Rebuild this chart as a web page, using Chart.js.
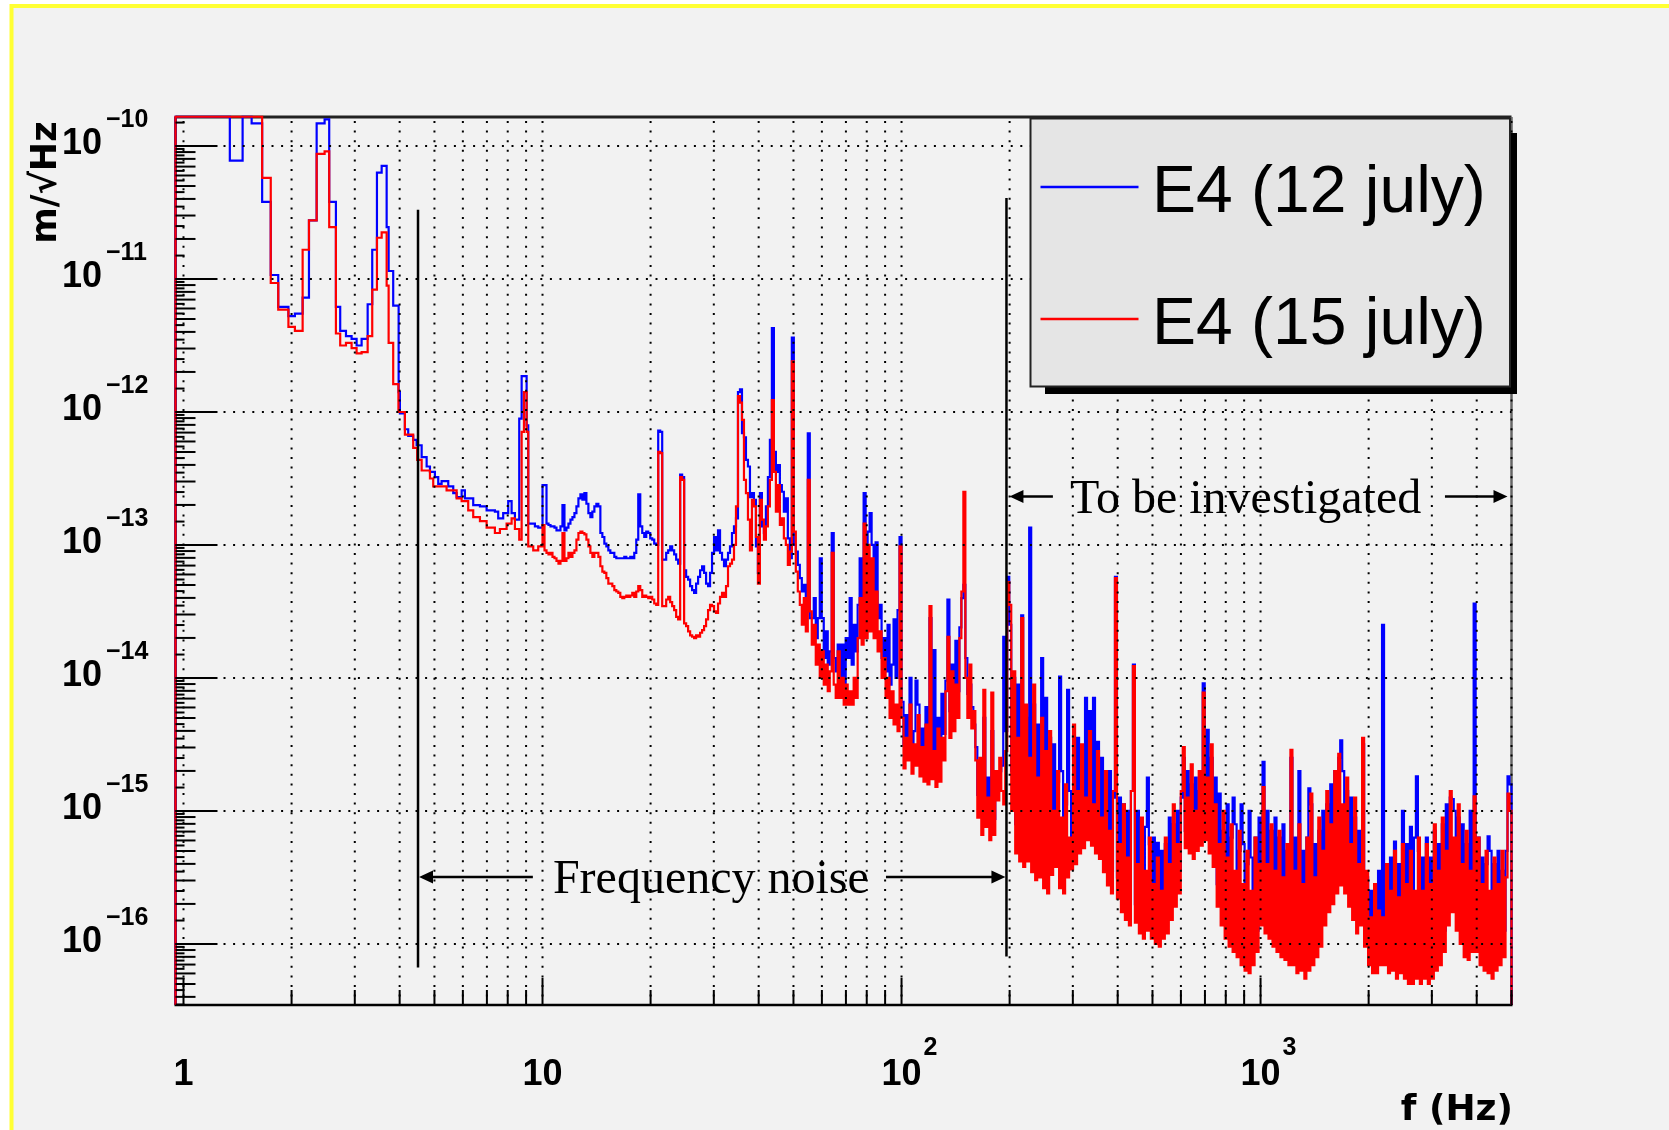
<!DOCTYPE html>
<html>
<head>
<meta charset="utf-8">
<title>E4 displacement spectrum</title>
<script src="https://cdn.jsdelivr.net/npm/chart.js@4.4.1/dist/chart.umd.min.js"></script>
<style>
  html, body { margin: 0; padding: 0; background: #ffffff; }
  canvas { display: block; }
</style>
</head>
<body>
<canvas id="psd" width="1669" height="1130"></canvas>
<script>
// Axis ranges
const FREQ_MIN = 0.95, FREQ_MAX = 5000;             // Hz
const AMP_MIN = 3.475e-17, AMP_MAX = 1.652e-10;     // m/sqrt(Hz)

// Tick labels
const xDecades = [1, 10, 100, 1000];
const xDecadeExp = ['', '', '2', '3'];               // '' -> plain label
const yDecadeExp = [-16, -15, -14, -13, -12, -11, -10];

// Below 10 Hz: [bin low edge (Hz), log10 amplitude]
const lowBlue = [[0.95,-9.78],[1.346,-10.11],[1.461,-9.78],[1.548,-9.83],[1.656,-10.42],[1.75,-10.97],[1.836,-11.21],[1.96,-11.28],[2.043,-11.26],[2.147,-11.14],[2.236,-10.56],[2.349,-9.83],[2.472,-9.80],[2.546,-10.42],[2.658,-11.21],[2.732,-11.39],[2.835,-11.43],[2.939,-11.45],[3.035,-11.50],[3.134,-11.45],[3.258,-11.19],[3.355,-10.78],[3.458,-10.20],[3.564,-10.15],[3.680,-10.61],[3.727,-10.94],[3.838,-11.20],[3.974,-11.85],[4.007,-12.01],[4.137,-12.13],[4.226,-12.18],[4.363,-12.21],[4.460,-12.25],[4.606,-12.34],[4.756,-12.41],[4.858,-12.45],[5.015,-12.49],[5.123,-12.54],[5.235,-12.52],[5.463,-12.56],[5.641,-12.61],[5.765,-12.64],[5.953,-12.59],[6.079,-12.65],[6.412,-12.70],[6.694,-12.71],[6.987,-12.74],[7.368,-12.75],[7.526,-12.80],[7.771,-12.76],[8.025,-12.67],[8.202,-12.76],[8.378,-12.81],[8.613,-12.05],[8.747,-11.73],[9.031,-12.10],[9.125,-12.84],[9.524,-12.86],[9.728,-12.87]];
const lowRed = [[0.95,-9.78],[1.656,-10.24],[1.75,-11.03],[1.836,-11.23],[1.96,-11.36],[2.043,-11.39],[2.147,-10.78],[2.236,-10.56],[2.349,-10.06],[2.472,-10.04],[2.546,-10.61],[2.658,-11.41],[2.732,-11.50],[2.835,-11.48],[2.939,-11.52],[3.035,-11.56],[3.134,-11.55],[3.258,-11.43],[3.355,-11.08],[3.458,-10.69],[3.564,-10.65],[3.680,-11.05],[3.727,-11.48],[3.838,-11.79],[3.969,-12.00],[4.137,-12.17],[4.363,-12.27],[4.477,-12.36],[4.606,-12.44],[4.858,-12.50],[4.961,-12.56],[5.405,-12.59],[5.765,-12.65],[5.953,-12.67],[6.209,-12.74],[6.412,-12.79],[6.694,-12.82],[6.987,-12.87],[7.368,-12.91],[7.608,-12.88],[7.943,-12.84],[8.202,-12.80],[8.378,-12.88],[8.613,-12.96],[8.747,-12.15],[8.877,-11.85],[9.031,-12.15],[9.125,-13.01],[9.422,-13.04],[9.728,-13.01]];

// Above 10 Hz: log10 amplitude per log-spaced bin, one list per band
const bandEdges = [[10, 100], [100, 1000], [1000, 5000]];

const blue10to100 = [
-12.55,-12.55,-12.84,-12.85,-12.86,-12.86,-12.87,-12.89,-12.89,-12.86,
-12.70,-12.89,-12.87,-12.84,-12.81,-12.79,-12.76,-12.71,-12.65,-12.62,
-12.66,-12.61,-12.69,-12.76,-12.79,-12.75,-12.71,-12.69,-12.71,-12.91,
-12.94,-12.99,-13.01,-13.04,-13.06,-13.06,-13.09,-13.10,-13.10,-13.10,
-13.10,-13.09,-13.10,-13.10,-13.09,-13.10,-13.06,-12.96,-12.62,-12.86,
-12.91,-12.94,-12.90,-12.91,-12.95,-12.96,-12.99,-13.00,-12.14,-12.15,
-13.11,-13.11,-13.06,-13.04,-13.01,-13.04,-13.07,-13.11,-13.14,-12.47,
-12.49,-13.19,-13.24,-13.26,-13.31,-13.34,-13.36,-13.29,-13.24,-13.19,
-13.16,-13.21,-13.29,-13.31,-13.21,-13.06,-12.94,-13.04,-12.89,-13.06,
-13.11,-13.16,-13.11,-13.06,-13.01,-12.91,-12.86,-12.80,-11.85,-11.83,
-12.16,-12.19,-12.36,-12.41,-12.64,-12.61,-12.66,-13.01,-13.21,-12.61,
-12.86,-12.91,-12.71,-12.49,-12.21,-11.37,-12.30,-12.45,-12.40,-12.55,
-12.60,-12.75,-12.65,-12.95,-13.10,-11.44,-13.00,-13.05,-13.15,-13.25,
-13.35,-13.30,-13.45,-12.16,-13.55,-13.55,-13.40,-13.70,-13.55,-13.10,
-13.55,-13.85,-13.65,-13.90,-13.80,-12.91,-13.85,-13.95,-13.75,-14.00,
-13.75,-14.05,-13.70,-13.85,-13.40,-13.90,-13.60,-13.80,-13.45,-13.10,
-13.50,-12.61,-13.45,-12.90,-12.76,-13.00,-13.40,-12.98,-13.55,-13.45,
-13.85,-13.70,-13.95,-13.60,-14.05,-13.90,-13.56,-14.00,-13.49,-12.94];
const red10to100 = [
-12.85,-13.04,-13.06,-13.07,-13.06,-13.09,-13.10,-13.12,-13.14,-13.12,
-12.91,-13.12,-13.10,-13.06,-13.09,-13.06,-13.04,-12.96,-12.91,-12.90,
-12.91,-12.92,-12.96,-13.01,-13.06,-13.09,-13.06,-13.06,-13.09,-13.16,
-13.20,-13.21,-13.25,-13.29,-13.29,-13.31,-13.34,-13.35,-13.36,-13.39,
-13.40,-13.39,-13.38,-13.39,-13.38,-13.36,-13.39,-13.35,-13.31,-13.34,
-13.39,-13.38,-13.39,-13.40,-13.39,-13.41,-13.44,-13.45,-12.30,-12.31,
-13.46,-13.46,-13.41,-13.39,-13.43,-13.46,-13.49,-13.54,-13.56,-12.49,
-12.51,-13.59,-13.61,-13.65,-13.68,-13.69,-13.70,-13.68,-13.69,-13.66,
-13.64,-13.61,-13.56,-13.49,-13.45,-13.46,-13.50,-13.51,-13.44,-13.39,
-13.36,-13.39,-13.31,-13.16,-13.14,-13.11,-13.00,-12.71,-11.88,-11.93,
-12.06,-12.51,-12.61,-12.81,-13.04,-12.66,-12.71,-12.94,-13.29,-12.66,
-12.81,-12.96,-12.86,-12.71,-12.51,-11.91,-12.45,-12.75,-12.55,-12.85,
-12.80,-12.95,-13.00,-13.15,-13.05,-11.62,-12.90,-13.20,-13.35,-13.45,
-13.60,-13.40,-13.65,-12.51,-13.50,-13.75,-13.60,-13.90,-13.75,-14.00,
-13.80,-14.05,-13.90,-14.10,-13.95,-13.06,-14.05,-14.15,-13.80,-14.15,
-14.00,-14.20,-14.05,-14.20,-14.10,-14.20,-14.00,-14.15,-13.70,-13.40,
-13.75,-12.84,-13.70,-13.00,-13.65,-13.10,-13.70,-13.35,-13.80,-13.65,
-14.00,-13.85,-14.15,-14.00,-14.30,-14.10,-14.35,-14.20,-14.40,-13.01];

const blue100to1k = [
-14.18,-14.50,-14.28,-14.44,-14.00,-14.52,-14.40,-14.02,-14.20,-14.58,
-14.38,-14.60,-14.22,-14.62,-13.55,-14.55,-13.79,-14.62,-14.30,-14.58,
-14.12,-14.42,-14.02,-13.41,-14.25,-13.90,-14.18,-13.72,-14.10,-13.62,
-13.40,-13.30,-13.85,-14.12,-14.05,-14.22,-14.35,-14.52,-14.88,-14.72,
-14.78,-14.30,-14.98,-14.75,-15.02,-14.40,-15.06,-14.88,-14.72,-14.70,
-14.66,-13.69,-14.40,-13.24,-13.60,-14.70,-14.00,-15.10,-14.05,-15.12,
-13.53,-15.22,-14.30,-15.28,-12.87,-15.22,-14.20,-15.30,-14.35,-15.36,
-13.85,-15.32,-14.15,-15.40,-14.45,-15.30,-14.50,-15.25,-14.78,-13.99,
-14.70,-15.40,-14.95,-14.09,-14.85,-15.25,-14.45,-15.20,-14.45,-15.12,
-14.58,-15.10,-14.15,-14.92,-14.25,-15.00,-14.15,-15.10,-14.48,-15.20,
-14.60,-15.30,-14.80,-15.40,-14.70,-15.45,-14.90,-13.24,-15.50,-14.90,
-15.60,-14.95,-15.60,-15.00,-15.70,-14.85,-13.90,-15.70,-15.00,-15.75,
-15.10,-15.80,-15.12,-14.75,-15.25,-15.80,-15.20,-15.85,-15.24,-15.85,
-15.30,-15.80,-15.25,-15.75,-15.05,-15.65,-15.10,-15.55,-15.00,-15.45,
-14.90,-14.60,-15.15,-14.70,-15.20,-14.80,-15.25,-14.75,-15.20,-14.85,
-15.10,-14.04,-15.05,-14.39,-15.15,-14.60,-15.25,-14.75,-15.55,-14.87,
-15.70,-15.15,-15.80,-14.95,-15.85,-15.20,-14.90,-15.10,-15.95,-15.30,
-14.95,-15.25,-16.00,-15.40,-15.00,-15.35,-16.00,-15.20,-15.90,-15.05];
const red100to1k = [
-14.30,-14.68,-14.45,-14.62,-14.20,-14.72,-14.50,-14.66,-14.28,-14.74,
-14.52,-14.78,-14.35,-14.80,-13.46,-14.76,-14.55,-14.82,-14.38,-14.78,
-14.45,-14.62,-14.10,-13.69,-14.45,-13.95,-14.40,-14.05,-14.30,-13.70,
-13.35,-12.60,-14.00,-14.30,-13.90,-14.38,-14.25,-14.62,-15.05,-14.60,
-15.18,-14.09,-15.12,-14.90,-15.22,-14.11,-15.18,-14.70,-14.92,-14.60,
-14.85,-14.95,-14.55,-13.28,-13.45,-15.00,-13.95,-15.32,-14.45,-15.38,
-13.55,-15.42,-14.20,-15.38,-14.60,-15.46,-14.05,-15.52,-14.75,-15.50,
-14.30,-15.58,-14.55,-15.62,-14.40,-15.48,-15.00,-15.42,-14.70,-15.58,
-15.05,-15.62,-14.80,-15.50,-15.20,-15.44,-14.35,-15.40,-14.85,-15.32,
-14.50,-15.28,-14.90,-15.22,-14.40,-15.26,-14.95,-15.32,-14.55,-15.36,
-15.05,-15.46,-14.70,-15.56,-15.15,-15.62,-14.85,-13.25,-15.66,-15.25,
-15.76,-14.95,-15.82,-15.35,-15.86,-14.85,-13.91,-15.84,-15.40,-15.92,
-15.05,-15.96,-15.45,-15.90,-15.20,-15.96,-15.55,-16.00,-15.35,-16.02,
-15.60,-15.96,-15.20,-15.92,-15.40,-15.82,-14.95,-15.72,-15.25,-15.62,
-14.85,-14.52,-15.28,-14.90,-15.32,-14.65,-15.36,-15.00,-15.30,-14.70,
-15.26,-14.11,-15.22,-14.75,-15.32,-14.50,-15.42,-14.95,-15.72,-15.25,
-15.86,-15.00,-15.96,-15.35,-16.02,-15.10,-16.06,-15.45,-16.10,-15.15,
-16.16,-15.55,-16.20,-15.30,-16.22,-15.60,-16.16,-15.20,-16.06,-15.40];

const blue1kto5k = [
-15.70,-14.63,-15.75,-15.00,-15.80,-15.15,-15.85,-15.05,-15.90,-15.20,
-15.95,-15.10,-15.95,-15.30,-16.00,-14.60,-16.00,-15.20,-16.05,-14.70,
-16.05,-15.30,-16.10,-15.20,-14.83,-14.95,-16.00,-15.25,-15.95,-15.15,
-15.85,-15.00,-15.70,-14.95,-15.60,-14.80,-15.55,-14.70,-15.45,-14.60,
-14.47,-14.70,-15.45,-14.85,-15.55,-14.90,-15.65,-15.05,-15.70,-15.15,
-15.70,-14.50,-15.85,-15.50,-15.90,-15.60,-15.95,-15.55,-15.90,-15.45,
-15.95,-13.60,-15.95,-15.40,-16.00,-15.35,-16.05,-15.23,-16.05,-15.40,
-16.00,-15.00,-16.05,-15.25,-16.05,-15.12,-16.10,-15.20,-14.74,-15.30,
-16.05,-15.35,-16.05,-15.20,-16.10,-15.35,-16.05,-15.15,-16.00,-15.25,
-15.95,-15.10,-15.90,-14.95,-15.70,-14.90,-14.91,-15.00,-15.75,-15.05,
-15.85,-15.10,-15.95,-15.25,-15.95,-15.00,-15.90,-13.44,-15.85,-15.20,
-15.95,-15.35,-15.95,-15.40,-15.19,-15.30,-16.00,-15.40,-15.95,-15.30,
-15.95,-15.45,-15.90,-15.30,-14.74,-14.80];
const red1kto5k = [
-15.86,-14.82,-15.92,-15.40,-15.96,-15.10,-16.02,-15.45,-16.06,-15.15,
-16.10,-15.50,-16.12,-15.25,-16.16,-14.54,-16.16,-15.45,-16.22,-15.10,
-16.20,-15.55,-16.26,-15.20,-16.20,-14.87,-16.16,-15.50,-16.10,-15.05,
-16.02,-15.30,-15.86,-14.85,-15.76,-15.10,-15.70,-14.70,-15.62,-14.57,
-15.56,-14.95,-15.62,-14.75,-15.72,-15.25,-15.82,-14.90,-15.92,-15.40,
-15.86,-14.45,-16.02,-15.45,-16.16,-15.80,-16.22,-15.55,-16.22,-15.75,
-16.16,-15.80,-16.16,-15.40,-16.22,-15.60,-16.20,-15.30,-16.26,-15.65,
-16.22,-15.25,-16.26,-15.55,-16.30,-15.30,-16.30,-15.60,-16.26,-15.20,
-16.30,-15.60,-16.26,-15.25,-16.30,-15.55,-16.26,-15.10,-16.20,-15.45,
-16.16,-15.05,-16.06,-15.30,-15.86,-14.85,-15.76,-15.20,-15.90,-14.95,
-16.00,-15.40,-16.10,-15.15,-16.12,-15.45,-16.06,-14.89,-16.06,-15.20,
-16.16,-15.55,-16.20,-15.30,-16.22,-15.60,-16.26,-15.35,-16.20,-15.55,
-16.16,-15.30,-16.10,-15.50,-14.87,-15.00];

// Annotation placement in data units (Hz, log10 amplitude)
const noiseBandHz = [4.5, 196];
const noiseBandLog = [[-10.479, -16.177], [-10.391, -16.094]];
const freqNoiseArrowLog = -15.496;
const investigateArrowLog = -12.636;

// Build a histogram outline: each point is a bin's low edge and its value
function buildSeries(low, bands) {
  const pts = [{x: FREQ_MIN, y: AMP_MIN}];
  low.forEach(([f, l]) => pts.push({x: f, y: Math.pow(10, l)}));
  bands.forEach((vals, b) => {
    const [f0, f1] = bandEdges[b];
    vals.forEach((l, i) => pts.push({x: f0 * Math.pow(f1 / f0, i / vals.length), y: Math.pow(10, l)}));
  });
  const last = pts[pts.length - 1].y;
  pts.push({x: FREQ_MAX, y: last}, {x: FREQ_MAX, y: AMP_MIN});
  return pts;
}

const blueSeries = buildSeries(lowBlue, [blue10to100, blue100to1k, blue1kto5k]);
const redSeries = buildSeries(lowRed, [red10to100, red100to1k, red1kto5k]);

function line(c, x1, y1, x2, y2) {
  c.beginPath(); c.moveTo(x1, y1); c.lineTo(x2, y2); c.stroke();
}
function arrow(c, x1, y, x2) {
  const dir = Math.sign(x2 - x1), head = 14, half = 6.5;
  c.lineWidth = 2.5;
  line(c, x1, y, x2 - dir * head * 0.6, y);
  c.beginPath();
  c.moveTo(x2, y);
  c.lineTo(x2 - dir * head, y - half);
  c.lineTo(x2 - dir * head, y + half);
  c.closePath();
  c.fill();
}

const rootStyle = {
  id: 'rootStyle',
  beforeDraw(chart) {
    const c = chart.ctx, W = chart.width, H = chart.height;
    c.save();
    c.fillStyle = '#ffffff'; c.fillRect(0, 0, W, H);
    c.fillStyle = '#ffff33'; c.fillRect(9.5, 4, W, H);
    c.fillStyle = '#f2f2f2'; c.fillRect(13.5, 8, W, H);
    c.restore();
  },
  beforeDatasetsDraw(chart) {
    const c = chart.ctx, a = chart.chartArea;
    c.save();
    c.strokeStyle = '#222'; c.lineWidth = 3;
    line(c, a.left, a.top, a.right, a.top);
    c.strokeStyle = '#666'; c.lineWidth = 2.5;
    line(c, a.right, a.top, a.right, a.bottom);
    c.strokeStyle = '#000'; c.lineWidth = 2.5;
    line(c, a.left - 1, a.bottom, a.right + 1, a.bottom);
    line(c, a.left, a.top, a.left, a.bottom);
    c.restore();
  },
  afterDatasetsDraw(chart) {
    const c = chart.ctx, a = chart.chartArea;
    const xs = chart.scales.x, ys = chart.scales.y;
    c.save();

    // dotted grid
    c.strokeStyle = '#000'; c.lineWidth = 2; c.setLineDash([2, 7.6]);
    const xTicks = [];
    for (let d = 1; d <= 1000; d *= 10) {
      for (let m = 1; m <= 9; m++) {
        const f = m * d;
        if (f >= FREQ_MIN && f <= FREQ_MAX) xTicks.push({f, major: m === 1});
      }
    }
    xTicks.forEach(t => { const px = xs.getPixelForValue(t.f); line(c, px, a.top + 4, px, a.bottom); });
    yDecadeExp.forEach(e => { const py = ys.getPixelForValue(Math.pow(10, e)); line(c, a.left, py, a.right, py); });
    c.setLineDash([]);

    // tick marks
    c.strokeStyle = '#000'; c.lineWidth = 2;
    xTicks.forEach(t => {
      const px = xs.getPixelForValue(t.f);
      line(c, px, a.bottom, px, a.bottom - (t.major ? 27 : 15));
    });
    for (let e = -17; e <= -10; e++) {
      for (let m = 1; m < 10; m += 0.5) {
        const v = m * Math.pow(10, e);
        if (v < AMP_MIN || v > AMP_MAX) continue;
        const py = ys.getPixelForValue(v);
        const len = m === 1 ? 42 : (Number.isInteger(m) ? 20 : 9);
        line(c, a.left, py, a.left + len, py);
      }
    }

    // tick labels
    c.fillStyle = '#000';
    const big = 'bold 36px "Liberation Sans", Arial, sans-serif';
    const sup = 'bold 25px "Liberation Sans", Arial, sans-serif';
    yDecadeExp.forEach(e => {
      const py = ys.getPixelForValue(Math.pow(10, e));
      c.font = big; c.textAlign = 'right'; c.textBaseline = 'alphabetic';
      c.fillText('10', 102, py + 8);
      c.font = sup; c.textAlign = 'left';
      c.fillText('\u2212' + Math.abs(e), 106, py - 18.5);
    });
    xDecades.forEach((f, i) => {
      const px = xs.getPixelForValue(f);
      const txt = xDecadeExp[i] ? '10' : String(f);
      c.font = big; c.textAlign = 'center'; c.textBaseline = 'alphabetic';
      c.fillText(txt, px, 1084.5);
      if (xDecadeExp[i]) {
        c.font = sup; c.textAlign = 'left';
        c.fillText(xDecadeExp[i], px + 22, 1054.5);
      }
    });

    // axis titles
    c.font = 'bold 36px "DejaVu Sans", sans-serif';
    c.textAlign = 'right';
    c.fillText('f (Hz)', 1513, 1120);
    c.save();
    c.translate(56, a.top + 4.5);
    c.rotate(-Math.PI / 2);
    c.font = 'bold 35px "DejaVu Sans", sans-serif';
    c.textAlign = 'right';
    c.fillText('m/\u221AHz', 0, 0);
    c.restore();

    // band markers and labels
    c.strokeStyle = '#000'; c.fillStyle = '#000'; c.lineWidth = 2.5;
    const bx0 = xs.getPixelForValue(noiseBandHz[0]);
    const bx1 = xs.getPixelForValue(noiseBandHz[1]);
    line(c, bx0, ys.getPixelForValue(Math.pow(10, noiseBandLog[0][0])), bx0, ys.getPixelForValue(Math.pow(10, noiseBandLog[0][1])));
    line(c, bx1, ys.getPixelForValue(Math.pow(10, noiseBandLog[1][0])), bx1, ys.getPixelForValue(Math.pow(10, noiseBandLog[1][1])));

    c.font = '48px "Liberation Serif", "Times New Roman", serif';
    c.textAlign = 'left'; c.textBaseline = 'alphabetic';
    const yn = ys.getPixelForValue(Math.pow(10, freqNoiseArrowLog));
    c.fillText('Frequency noise', xs.getPixelForValue(10.69), yn + 16.5);
    arrow(c, xs.getPixelForValue(9.40), yn, bx0 + 1);
    arrow(c, xs.getPixelForValue(90.5), yn, bx1 - 1);

    const yi = ys.getPixelForValue(Math.pow(10, investigateArrowLog));
    c.fillText('To be investigated', xs.getPixelForValue(294.6), yi + 16.5);
    arrow(c, xs.getPixelForValue(264), yi, bx1 + 3);
    arrow(c, xs.getPixelForValue(3263), yi, a.right - 4);

    // legend box with shadow
    const L = a.right - 481, T = a.top + 1.5, R = a.right - 1.5, B = T + 268;
    c.fillStyle = '#000';
    c.fillRect(L + 14.5, T + 14.5, (R + 7) - (L + 14.5), (B + 7.5) - (T + 14.5));
    c.fillStyle = '#e5e5e5';
    c.fillRect(L, T, R - L, B - T);
    c.strokeStyle = '#222'; c.lineWidth = 2;
    c.strokeRect(L, T, R - L, B - T);

    const entries = chart.data.datasets.slice().sort((p, q) => (q.order || 0) - (p.order || 0));
    entries.forEach((ds, i) => {
      const yy = T + 68.5 + i * 132;
      c.strokeStyle = ds.borderColor; c.lineWidth = 2.5;
      line(c, L + 10, yy, L + 108, yy);
      c.fillStyle = '#000';
      c.font = '66px "Liberation Sans", Arial, sans-serif';
      c.textAlign = 'left';
      c.fillText(ds.label, L + 121.5, yy + 25);
    });

    c.restore();
  }
};

new Chart(document.getElementById('psd').getContext('2d'), {
  type: 'line',
  data: {
    datasets: [
      { label: 'E4 (12 july)', data: blueSeries, borderColor: '#0000ff', borderWidth: 2.2,
        stepped: true, pointRadius: 0, fill: false, order: 1, clip: 4 },
      { label: 'E4 (15 july)', data: redSeries, borderColor: '#ff0000', borderWidth: 2.2,
        stepped: true, pointRadius: 0, fill: false, order: 0, clip: 4 }
    ]
  },
  options: {
    responsive: false,
    animation: false,
    devicePixelRatio: 1,
    events: [],
    layout: { padding: { left: 175.5, right: 157.5, top: 117, bottom: 125 } },
    scales: {
      x: { type: 'logarithmic', min: FREQ_MIN, max: FREQ_MAX, display: false },
      y: { type: 'logarithmic', min: AMP_MIN, max: AMP_MAX, display: false }
    },
    plugins: { legend: { display: false }, tooltip: { enabled: false } }
  },
  plugins: [rootStyle]
});
</script>
</body>
</html>
